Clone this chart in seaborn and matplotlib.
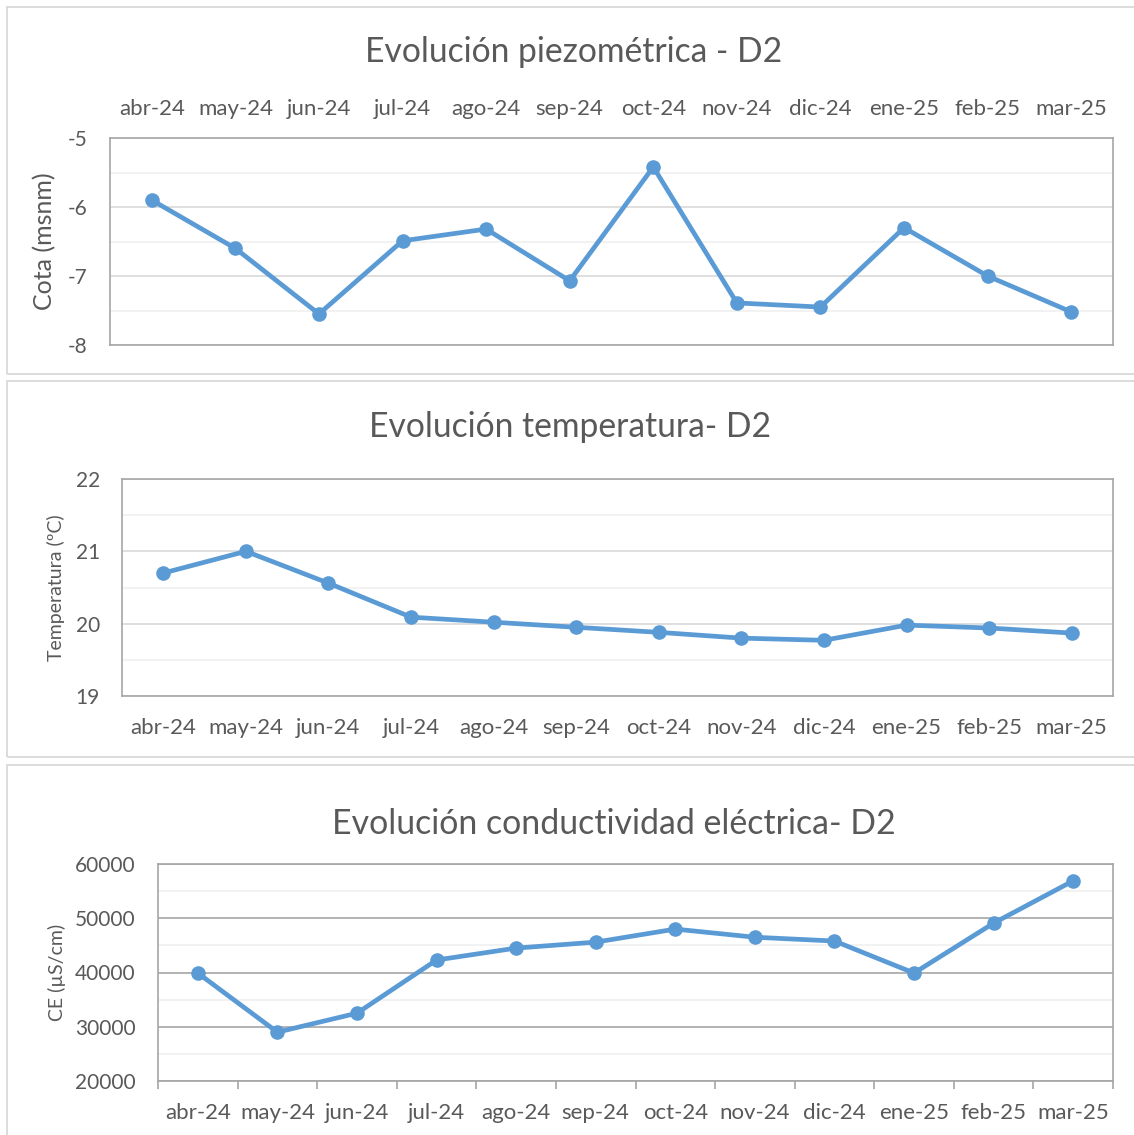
import numpy as np
import pandas as pd
import matplotlib
matplotlib.use("Agg")
import matplotlib.pyplot as plt
from matplotlib.patches import Rectangle
from matplotlib.ticker import MultipleLocator, FixedLocator
import seaborn as sns

# Monthly readings of well D2
meses = ["abr-24", "may-24", "jun-24", "jul-24", "ago-24", "sep-24",
         "oct-24", "nov-24", "dic-24", "ene-25", "feb-25", "mar-25"]
cota = [-5.90, -6.60, -7.55, -6.49, -6.32, -7.07,
        -5.42, -7.39, -7.45, -6.30, -7.00, -7.52]
temperatura = [20.70, 21.00, 20.56, 20.09, 20.02, 19.95,
               19.88, 19.80, 19.77, 19.98, 19.94, 19.87]
conductividad = [39900, 29000, 32500, 42300, 44500, 45600,
                 48000, 46500, 45800, 39900, 49100, 56900]

AZUL = "#5B9BD5"
TEXTO = "#595959"
BORDE = "#D9D9D9"
EJE = "#A6A6A6"

sns.set_theme(style="white")
plt.rcParams["font.family"] = ["Lato", "DejaVu Sans"]
plt.rcParams["axes.unicode_minus"] = False

W, H = 1134, 1135
fig = plt.figure(figsize=(W / 100, H / 100), dpi=100)
fig.patch.set_facecolor("white")


def px_axes(left, top, right, bottom):
    return fig.add_axes([left / W, 1 - bottom / H, (right - left) / W, (bottom - top) / H])


def marco(top, bottom):
    fig.add_artist(Rectangle((7 / W, 1 - bottom / H), (1200 - 7) / W, (bottom - top) / H,
                             transform=fig.transFigure, fill=False, ec=BORDE, lw=1.3))


def dibujar(ax, valores, ymin, ymax, mayor, menor, color_mayor, ylabel, ylabel_size, ylabel_x):
    df = pd.DataFrame({"pos": np.arange(len(meses)), "valor": valores})
    sns.lineplot(data=df, x="pos", y="valor", ax=ax, sort=False, color=AZUL,
                 linewidth=3.4, marker="o", markersize=10.5,
                 markeredgewidth=0, markerfacecolor=AZUL)
    ax.set_xlim(-0.5, len(meses) - 0.5)
    ax.set_ylim(ymin, ymax)
    ax.set_xticks(np.arange(len(meses)))
    ax.set_xticklabels(meses)
    ax.yaxis.set_major_locator(MultipleLocator(mayor))
    ax.yaxis.set_minor_locator(MultipleLocator(menor))
    ax.grid(which="minor", axis="y", color="#F0F0F0", lw=1.2)
    ax.grid(which="major", axis="y", color=color_mayor, lw=1.2)
    ax.grid(which="both", axis="x", visible=False)
    ax.set_axisbelow(True)
    ax.tick_params(axis="x", which="major", length=0, labelsize=16,
                   labelcolor=TEXTO, pad=16)
    ax.tick_params(axis="y", which="major", length=0, labelsize=15,
                   labelcolor=TEXTO, pad=16)
    ax.tick_params(axis="y", which="minor", length=0)
    for s in ax.spines.values():
        s.set_visible(True)
        s.set_color(EJE)
        s.set_linewidth(1.2)
    ax.set_xlabel("")
    ax.set_ylabel(ylabel, fontsize=ylabel_size, color=TEXTO, va="center")
    ax.yaxis.set_label_coords(ylabel_x, 0.5)


# Piezometric level
marco(7, 374)
ax1 = px_axes(110, 138, 1113, 345)
dibujar(ax1, cota, -8, -5, 1, 0.5, "#D9D9D9", "Cota (msnm)", 18, -0.0648)
ax1.xaxis.tick_top()
ax1.tick_params(axis="x", which="major", length=0, pad=13.5)
fig.text(574 / W, 1 - 52 / H, "Evolución piezométrica - D2", ha="center", va="center",
         fontsize=24.2, color=TEXTO)

# Temperature
marco(381, 757)
ax2 = px_axes(122, 479, 1113, 696)
dibujar(ax2, temperatura, 19, 22, 1, 0.5, "#D9D9D9", "Temperatura (ºC)", 14, -0.0666)
fig.text(570 / W, 1 - 427 / H, "Evolución temperatura- D2", ha="center", va="center",
         fontsize=24.2, color=TEXTO)

# Electrical conductivity
marco(765, 1200)
ax3 = px_axes(158, 864, 1113, 1081)
dibujar(ax3, conductividad, 20000, 60000, 10000, 5000, "#A6A6A6", "CE (µS/cm)", 14, -0.1058)
ax3.xaxis.set_minor_locator(FixedLocator(np.arange(-0.5, len(meses), 1.0)))
ax3.tick_params(axis="x", which="minor", length=6, width=1.2, color=EJE, direction="out", bottom=True)
ax3.tick_params(axis="x", which="major", pad=16)
fig.text(614 / W, 1 - 824 / H, "Evolución conductividad eléctrica- D2", ha="center", va="center",
         fontsize=24.4, color=TEXTO)

fig.savefig("out.png", dpi=100, facecolor="white")
